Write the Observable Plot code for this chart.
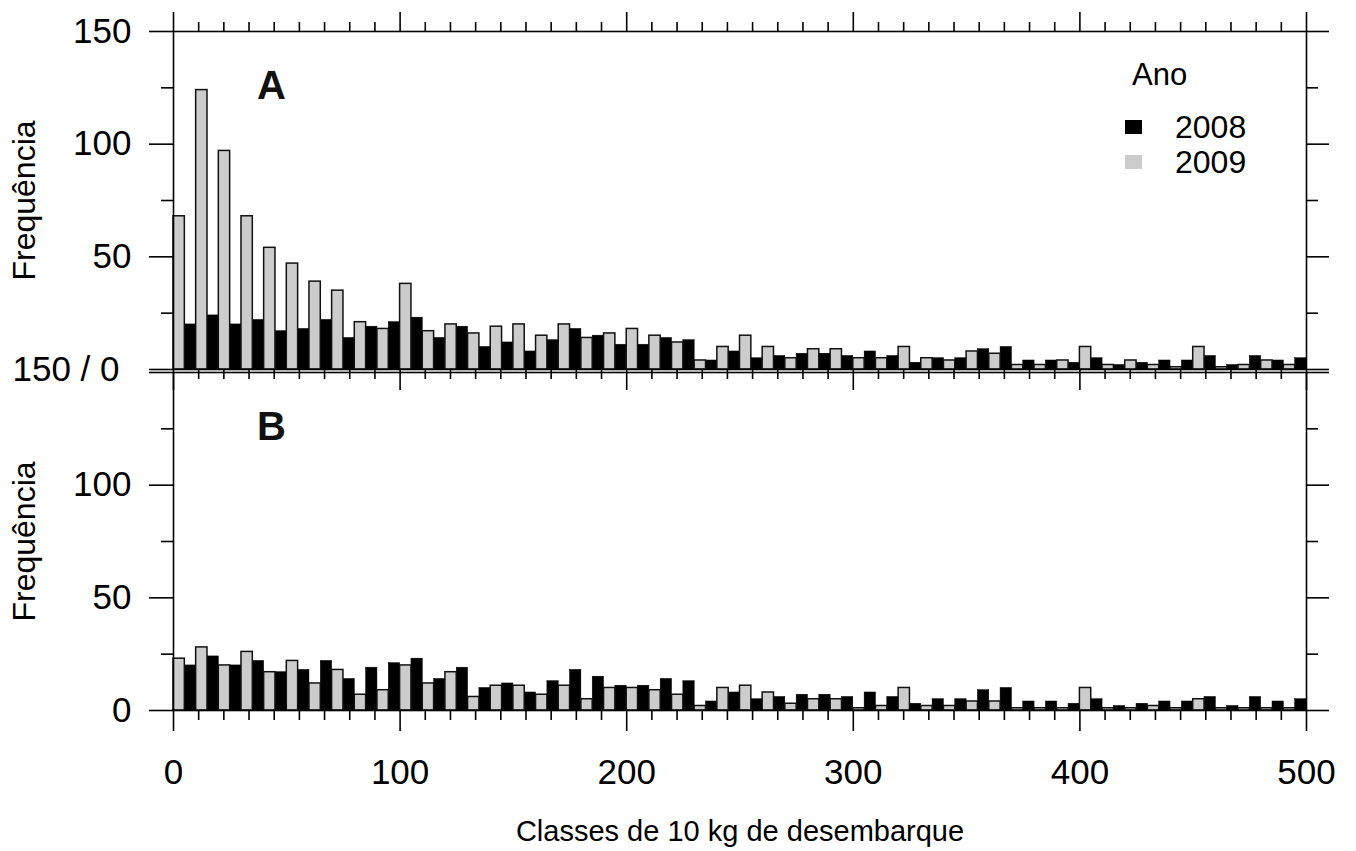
<!DOCTYPE html>
<html>
<head>
<meta charset="utf-8">
<script src="https://cdn.jsdelivr.net/npm/d3@7"></script>
<script src="https://cdn.jsdelivr.net/npm/@observablehq/plot@0.6"></script>
<style>
  html, body { margin: 0; padding: 0; background: #ffffff; }
  #wrap { position: relative; width: 1356px; height: 851px; font-family: "Liberation Sans", Arial, sans-serif; }
  #legend { position: absolute; left: 0; top: 0; }
  .lg { position: absolute; color: #000; white-space: nowrap; line-height: 1; }
  .sw { position: absolute; }
</style>
</head>
<body>
<div id="wrap">
  <div id="chart"></div>
  <div id="legend"></div>
</div>
<script>
// ---- data ----
const classStarts = [0,10,20,30,40,50,60,70,80,90,100,110,120,130,140,150,160,170,180,190,
  200,210,220,230,240,250,260,270,280,290,300,310,320,330,340,350,360,370,380,390,
  400,410,420,430,440,450,460,470,480,490];
const years = ["2008", "2009"];
const panels = ["A", "B"];

// Panel A
const a2008 = [20,24,20,22,17,18,22,14,19,21,23,14,19,10,12,8,13,18,15,11,
  11,14,13,4,8,5,6,7,7,6,8,6,3,5,5,9,10,4,4,3,5,2,3,4,4,6,2,6,4,5];
const a2009 = [68,124,97,68,54,47,39,35,21,18,38,17,20,16,19,20,15,20,14,16,
  18,15,12,4,10,15,10,5,9,9,5,5,10,5,4,8,7,2,2,4,10,2,4,2,1,10,1,2,4,2];
// Panel B
const b2008 = [20,24,20,22,17,18,22,14,19,21,23,14,19,10,12,8,13,18,15,11,
  11,14,13,4,8,5,6,7,7,6,8,6,3,5,5,9,10,4,4,3,5,2,3,4,4,6,2,6,4,5];
const b2009 = [23,28,20,26,17,22,12,18,7,9,20,12,17,6,11,11,7,11,5,10,
  10,9,7,2,10,11,8,3,5,5,1,2,10,2,2,4,4,1,1,1,10,1,1,2,1,5,1,1,1,1];

const xMajorTicks = [0, 100, 200, 300, 400, 500];
const yMajorTicks = [0, 50, 100, 150];
const yMinorTicks = [25, 75, 125];
const yLabelValues = [50, 100, 150];
const yLabelsA = ["50", "100", "150"];
const yLabelsB = ["50", "100", ""];
const boundaryLabel = "150 / 0";
const bottomZeroLabel = "0";
const yTitle = "Frequência";
const xTitle = "Classes de 10 kg de desembarque";
const legendTitle = "Ano";

// minor x ticks: nine subdivisions between labelled ticks
const xMinorTicks = d3.range(0, 46).map(i => i * 100 / 9).filter((v, i) => i % 9 !== 0);

// ---- build tables ----
const seriesByPanel = {A: {"2008": a2008, "2009": a2009}, B: {"2008": b2008, "2009": b2009}};
const bars = [];
for (const p of panels) for (const y of years)
  seriesByPanel[p][y].forEach((v, i) => bars.push({panel: p, year: y, start: classStarts[i], value: v}));
const bars2008 = bars.filter(d => d.year === "2008");
const bars2009 = bars.filter(d => d.year === "2009");

const yLabelRows = [];
yLabelValues.forEach((v, i) => {
  yLabelRows.push({panel: "A", value: v, label: yLabelsA[i]});
  yLabelRows.push({panel: "B", value: v, label: yLabelsB[i]});
});
yLabelRows.push({panel: "B", value: 0, label: bottomZeroLabel});

const sw = 1.6;
const chart = Plot.plot({
  width: 1356,
  height: 851,
  marginLeft: 173,
  marginRight: 50,
  marginTop: 31,
  marginBottom: 140,
  style: {fontFamily: "'Liberation Sans', Arial, sans-serif", fontSize: "30px", background: "white", color: "black", overflow: "visible"},
  x: {domain: [0, 500], axis: null},
  y: {domain: [0, 150], axis: null},
  fy: {domain: panels, axis: null, label: null, paddingInner: 0.008, paddingOuter: 0},
  marks: [
    // bars
    Plot.rect(bars2008, {x1: d => d.start + 5, x2: d => d.start + 10, y1: 0, y2: "value", fy: "panel", fill: "#000000", stroke: "#000000", strokeWidth: 0.5}),
    Plot.rect(bars2009, {x1: "start", x2: d => d.start + 5, y1: 0, y2: "value", fy: "panel", fill: "#cccccc", stroke: "#111111", strokeWidth: 1.5}),
    Plot.frame({stroke: "#000", strokeWidth: sw}),
    // top x axis (top panel)
    Plot.axisX({anchor: "top", ticks: xMajorTicks, tickSize: 20, tickFormat: () => "", label: null, strokeWidth: sw}),
    Plot.axisX({anchor: "top", ticks: xMinorTicks, tickSize: 10, tickFormat: () => "", label: null, strokeWidth: sw}),
    // bottom x ticks (both panels)
    Plot.axisX({anchor: "bottom", facetAnchor: null, ticks: xMajorTicks, tickSize: 21, tickFormat: () => "", label: null, strokeWidth: sw}),
    Plot.axisX({anchor: "bottom", facetAnchor: null, ticks: xMinorTicks, tickSize: 10, tickFormat: () => "", label: null, strokeWidth: sw}),
    // bottom x labels (bottom panel)
    Plot.axisX({anchor: "bottom", ticks: xMajorTicks, tickSize: 0, tickPadding: 49, label: null, fontSize: 35, tickFormat: d => String(d)}),
    // left / right y ticks
    Plot.axisY({anchor: "left", ticks: yMajorTicks, tickSize: 24, tickFormat: () => "", label: null, strokeWidth: sw}),
    Plot.axisY({anchor: "left", ticks: yMinorTicks, tickSize: 12, tickFormat: () => "", label: null, strokeWidth: sw}),
    Plot.axisY({anchor: "right", ticks: yMajorTicks, tickSize: 22, tickFormat: () => "", label: null, strokeWidth: sw}),
    Plot.axisY({anchor: "right", ticks: yMinorTicks, tickSize: 11, tickFormat: () => "", label: null, strokeWidth: sw}),
    // y tick labels
    Plot.text(yLabelRows, {fy: "panel", y: "value", text: "label", frameAnchor: "left", dx: -42, textAnchor: "end", lineAnchor: "middle", fontSize: 35, fill: "#000"}),
    Plot.text([{panel: "A", value: 0, label: boundaryLabel}], {fy: "panel", y: "value", text: "label", frameAnchor: "left", dx: -54, textAnchor: "end", lineAnchor: "middle", fontSize: 35, fill: "#000"}),
    // y titles
    Plot.text(panels.map(p => ({panel: p})), {fy: "panel", text: () => yTitle, frameAnchor: "left", rotate: -90, dx: -149, textAnchor: "middle", lineAnchor: "middle", fontSize: 32, fill: "#000"}),
    // panel letters
    Plot.text(panels.map(p => ({panel: p, label: p})), {fy: "panel", text: "label", frameAnchor: "top-left", dx: 98, dy: 55, textAnchor: "middle", lineAnchor: "middle", fontSize: 40, fontWeight: "bold", fill: "#111"}),
    // x title
    Plot.text([{panel: "B"}], {fy: "panel", text: () => xTitle, frameAnchor: "bottom", dy: 121, textAnchor: "middle", lineAnchor: "middle", fontSize: 29, fill: "#000"})
  ]
});
document.getElementById("chart").appendChild(chart);

// ---- legend (HTML overlay) ----
const legendColors = {"2008": "#000000", "2009": "#cccccc"};
const legend = document.getElementById("legend");
const title = document.createElement("div");
title.className = "lg";
title.textContent = legendTitle;
Object.assign(title.style, {left: "1132px", top: "59px", fontSize: "31px"});
legend.appendChild(title);
years.forEach((y, i) => {
  const cy = 127 + i * 35;
  const s = document.createElement("div");
  s.className = "sw";
  Object.assign(s.style, {left: "1125px", top: (cy - 7) + "px", width: "17px", height: "14px", background: legendColors[y]});
  legend.appendChild(s);
  const t = document.createElement("div");
  t.className = "lg";
  t.textContent = y;
  Object.assign(t.style, {left: "1175px", top: (cy - 16) + "px", fontSize: "32px"});
  legend.appendChild(t);
});
</script>
</body>
</html>
